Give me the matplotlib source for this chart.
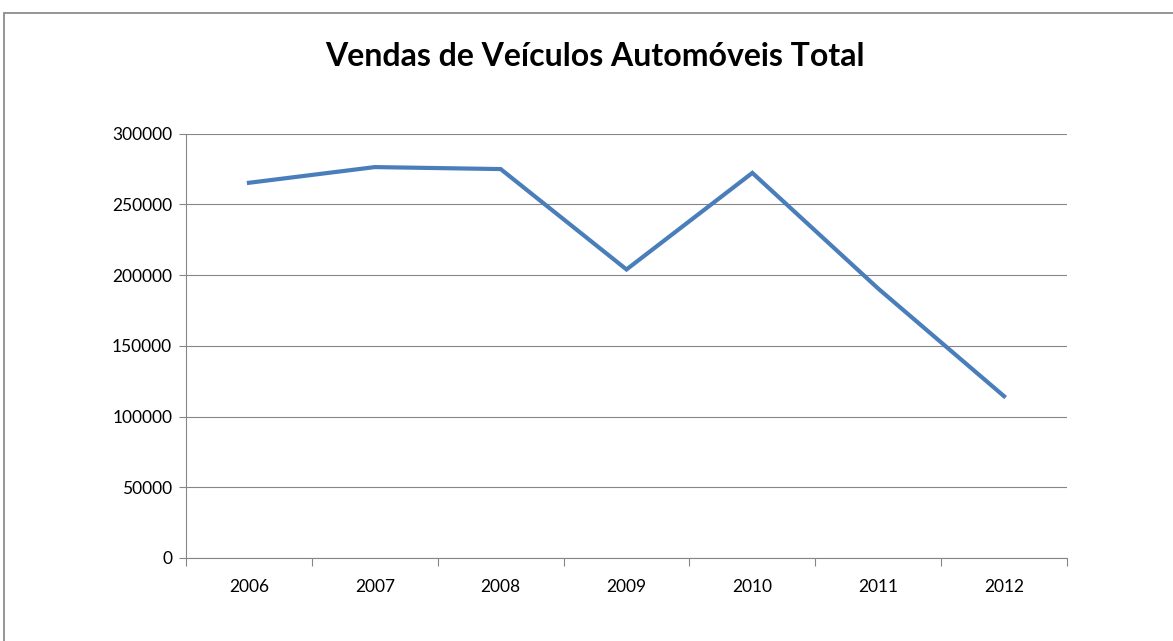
import matplotlib.pyplot as plt
from matplotlib.patches import Rectangle

# data
years = ['2006', '2007', '2008', '2009', '2010', '2011', '2012']
vendas = [265300, 276400, 275000, 204000, 272300, 190500, 114400]
y_ticks = [0, 50000, 100000, 150000, 200000, 250000, 300000]

grey = '#868686'

fig = plt.figure(figsize=(11.73, 6.41), dpi=100)
ax = fig.add_axes([0.1586, 0.1295, 0.7510, 0.6619])

# outer chart border (only top and left edges visible in the reference)
fig.patches.append(Rectangle((4 / 1173, -0.1), 1.2, (641 - 13) / 641 + 0.1,
                             transform=fig.transFigure, fill=False,
                             edgecolor='#8c8c8c', linewidth=1.3))

x = list(range(len(years)))
ax.plot(x, vendas, color='#4a7ebb', linewidth=3.0, solid_joinstyle='miter')

ax.set_xlim(-0.5, len(years) - 0.5)
ax.set_ylim(0, 300000)
ax.set_yticks(y_ticks)
ax.set_yticklabels([str(v) for v in y_ticks], fontfamily='Lato', fontsize=12.5)
ax.set_xticks(x)
ax.set_xticklabels(years, fontfamily='Lato', fontsize=12.5)
ax.set_xticks([i - 0.5 for i in range(len(years) + 1)], minor=True)

ax.tick_params(axis='x', which='major', length=0, pad=15)
ax.tick_params(axis='x', which='minor', length=6, color=grey, width=0.8)
ax.tick_params(axis='y', which='major', length=5, color=grey, width=0.8, pad=5)

ax.grid(axis='y', color=grey, linewidth=0.8)
ax.set_axisbelow(True)
for side in ['top', 'right']:
    ax.spines[side].set_visible(False)
for side in ['left', 'bottom']:
    ax.spines[side].set_color(grey)
    ax.spines[side].set_linewidth(0.8)

fig.text(0.507, 1 - 56 / 641, 'Vendas de Veículos Automóveis Total',
         ha='center', va='center', fontsize=23, fontweight='bold',
         fontfamily='Lato')

fig.savefig('out.png', dpi=100)
